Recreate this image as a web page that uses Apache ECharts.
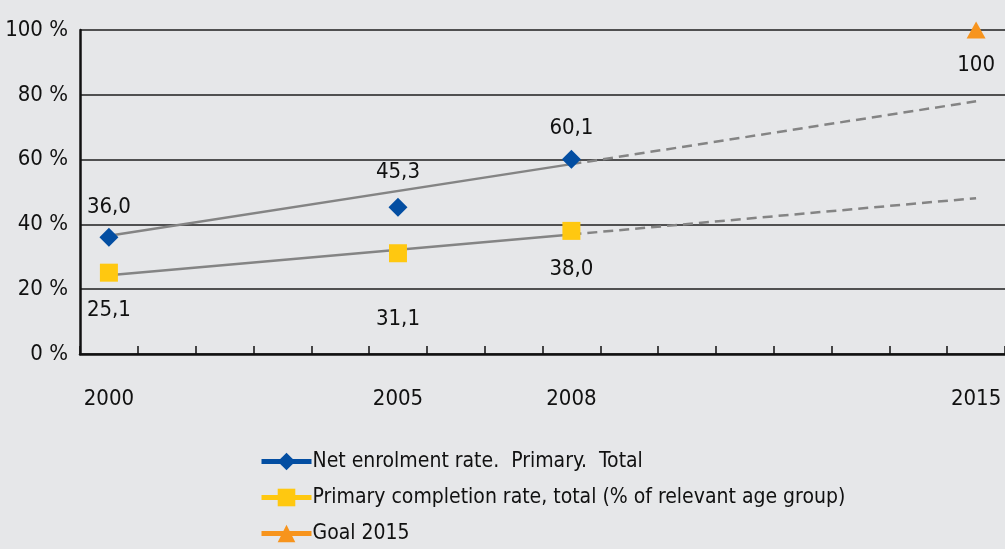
<!DOCTYPE html>
<html>
<head>
<meta charset="utf-8">
<script src="https://cdn.jsdelivr.net/npm/echarts@6/dist/echarts.min.js"></script>
<style>
html, body { margin: 0; padding: 0; background: #e6e7e9; }
#chart { width: 1005px; height: 549px; }
</style>
</head>
<body>
<div id="chart"></div>
<script>
// years on the axis, one category per year
var years = ['2000','2001','2002','2003','2004','2005','2006','2007','2008','2009','2010','2011','2012','2013','2014','2015'];
var shownYears = ['2000', '2005', '2008', '2015'];

// observed values
var enrolYears = ['2000', '2005', '2008'];
var enrolValues = [36.0, 45.3, 60.1];
var complYears = ['2000', '2005', '2008'];
var complValues = [25.1, 31.1, 38.0];
var goalYears = ['2015'];
var goalValues = [100];

// trend lines: fitted part up to 2008, projection to 2015
var enrolTrendYears = ['2000', '2008', '2015'];
var enrolTrend = [36.5, 58.6, 78.0];
var complTrendYears = ['2000', '2008', '2015'];
var complTrend = [24.3, 36.9, 48.1];

var FONT = "'Liberation Sans Narrow', 'DejaVu Sans Condensed', 'Open Sans', sans-serif";

function place(ys, vals) {
    var out = years.map(function () { return null; });
    for (var i = 0; i < ys.length; i++) out[years.indexOf(ys[i])] = vals[i];
    return out;
}
function part(ys, vals, from, to) {
    var a = ys.indexOf(from), b = ys.indexOf(to);
    return place(ys.slice(a, b + 1), vals.slice(a, b + 1));
}
function fmt(v) { return v.toFixed(1).replace('.', ','); }

// label offsets per point (some labels sit further away)
var enrolLabelDist = [10, 14, 10];
var complLabelDist = [18, 46, 18];

function labelled(ys, vals, dists, pos) {
    var out = place(ys, vals);
    for (var i = 0; i < ys.length; i++) {
        var k = years.indexOf(ys[i]);
        out[k] = { value: vals[i], label: { show: true, position: pos, distance: dists[i] } };
    }
    return out;
}

var myChart = echarts.init(document.getElementById('chart'));

var trendStyle = { color: '#848484', width: 2.5 };
var projStyle = { color: '#848484', width: 2.5, type: [10, 6] };

option = {
    animation: false,
    backgroundColor: '#e6e7e9',
    textStyle: { fontFamily: FONT },
    grid: { left: 80, right: -6, top: 30, bottom: 195, containLabel: false },
    legend: {
        orient: 'vertical',
        left: 254,
        top: 446,
        itemWidth: 50,
        itemHeight: 22,
        itemGap: 15,
        lineStyle: { width: 5 },
        textStyle: { fontFamily: FONT, fontSize: 21, color: '#111', padding: [0, 0, 0, -4] },
        data: [
            { name: 'Net enrolment rate.  Primary.  Total' },
            { name: 'Primary completion rate, total (% of relevant age group)' },
            { name: 'Goal 2015' }
        ]
    },
    xAxis: {
        type: 'category',
        data: years,
        boundaryGap: true,
        axisLine: { lineStyle: { color: '#111', width: 2.5 } },
        axisTick: { show: true, inside: true, length: 8, interval: 0, lineStyle: { color: '#111', width: 1.5 } },
        axisLabel: {
            interval: 0,
            margin: 34,
            fontFamily: FONT,
            fontSize: 22,
            color: '#111',
            formatter: function (v) { return shownYears.indexOf(v) >= 0 ? v : ''; }
        },
        splitLine: { show: false }
    },
    yAxis: {
        type: 'value',
        min: 0,
        max: 100,
        interval: 20,
        axisLine: { show: true, lineStyle: { color: '#111', width: 2.5 } },
        axisTick: { show: false },
        axisLabel: { margin: 12, fontFamily: FONT, fontSize: 22, color: '#111', formatter: '{value} %' },
        splitLine: { lineStyle: { color: '#1e1e1e', width: 1.5 } }
    },
    series: [
        {
            name: 'enrolTrend', type: 'line', connectNulls: true, symbol: 'none', z: 2,
            data: part(enrolTrendYears, enrolTrend, '2000', '2008'),
            lineStyle: trendStyle
        },
        {
            name: 'enrolTrendProj', type: 'line', connectNulls: true, symbol: 'none', z: 2,
            data: part(enrolTrendYears, enrolTrend, '2008', '2015'),
            lineStyle: projStyle
        },
        {
            name: 'complTrend', type: 'line', connectNulls: true, symbol: 'none', z: 2,
            data: part(complTrendYears, complTrend, '2000', '2008'),
            lineStyle: trendStyle
        },
        {
            name: 'complTrendProj', type: 'line', connectNulls: true, symbol: 'none', z: 2,
            data: part(complTrendYears, complTrend, '2008', '2015'),
            lineStyle: projStyle
        },
        {
            name: 'Net enrolment rate.  Primary.  Total',
            type: 'line', connectNulls: false, z: 5,
            symbol: 'diamond', symbolSize: [19, 19],
            itemStyle: { color: '#034ea2' },
            lineStyle: { color: '#034ea2', width: 5 },
            label: { fontFamily: FONT, fontSize: 22, color: '#111', formatter: function (p) { return fmt(p.value); } },
            data: labelled(enrolYears, enrolValues, enrolLabelDist, 'top')
        },
        {
            name: 'Primary completion rate, total (% of relevant age group)',
            type: 'line', connectNulls: false, z: 5,
            symbol: 'rect', symbolSize: [18, 18],
            itemStyle: { color: '#ffc810' },
            lineStyle: { color: '#ffc810', width: 5 },
            label: { fontFamily: FONT, fontSize: 22, color: '#111', formatter: function (p) { return fmt(p.value); } },
            data: labelled(complYears, complValues, complLabelDist, 'bottom')
        },
        {
            name: 'Goal 2015',
            type: 'line', connectNulls: false, z: 5,
            symbol: 'triangle', symbolSize: [19, 17],
            itemStyle: { color: '#f7941d' },
            lineStyle: { color: '#f7941d', width: 5 },
            label: { fontFamily: FONT, fontSize: 22, color: '#111', formatter: function (p) { return String(p.value); } },
            data: labelled(goalYears, goalValues, [16], 'bottom')
        }
    ]
};

myChart.setOption(option);
</script>
</body>
</html>
